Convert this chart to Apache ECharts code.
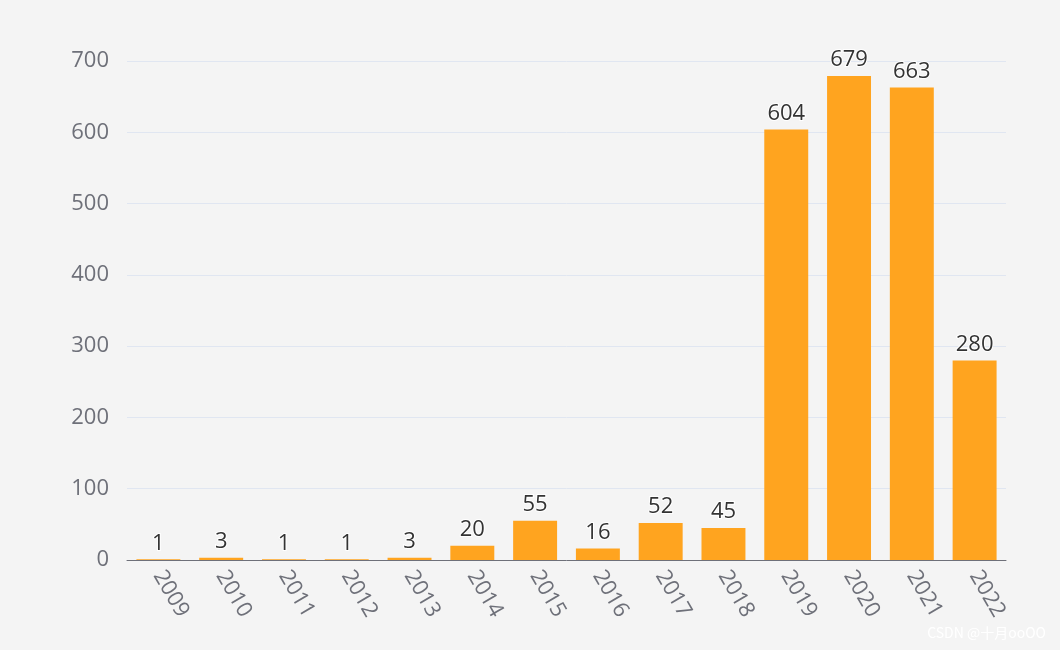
<!DOCTYPE html>
<html><head><meta charset="utf-8">
<script src="https://cdn.jsdelivr.net/npm/echarts@6/dist/echarts.min.js"></script>
<style>html,body{margin:0;background:#f4f4f4}#c{width:1060px;height:650px}</style>
</head><body><div id="c"></div>
<script>
const categories=['2009','2010','2011','2012','2013','2014','2015','2016','2017','2018','2019','2020','2021','2022'];
const values=[1,3,1,1,3,20,55,16,52,45,604,679,663,280];
const chart=echarts.init(document.getElementById('c'));
chart.setOption({
  backgroundColor:'#f4f4f4',
  grid:{left:127,right:54,top:61,bottom:90},
  xAxis:{type:'category',data:categories,
    axisLine:{lineStyle:{color:'#6e7079'}},
    axisTick:{lineStyle:{color:'#6e7079'}},
    axisLabel:{rotate:-60,fontSize:22,color:'#6e7079',fontFamily:'Open Sans',margin:12}},
  yAxis:{type:'value',min:0,max:700,interval:100,
    axisLabel:{fontSize:22,color:'#6e7079',fontFamily:'Open Sans',margin:18},
    splitLine:{lineStyle:{color:'#e0e6f1'}}},
  series:[{type:'bar',data:values,barWidth:'70%',itemStyle:{color:'#ffa41f'},
    label:{show:true,position:'top',fontSize:22,color:'#333',fontFamily:'Open Sans',textBorderColor:'#fff',textBorderWidth:2}}],
  graphic:[{type:'text',right:14,bottom:10,style:{text:'CSDN @十月ooOO',fontSize:14,fill:'#fff',fontFamily:'Noto Sans CJK SC'}}]
});
</script></body></html>
